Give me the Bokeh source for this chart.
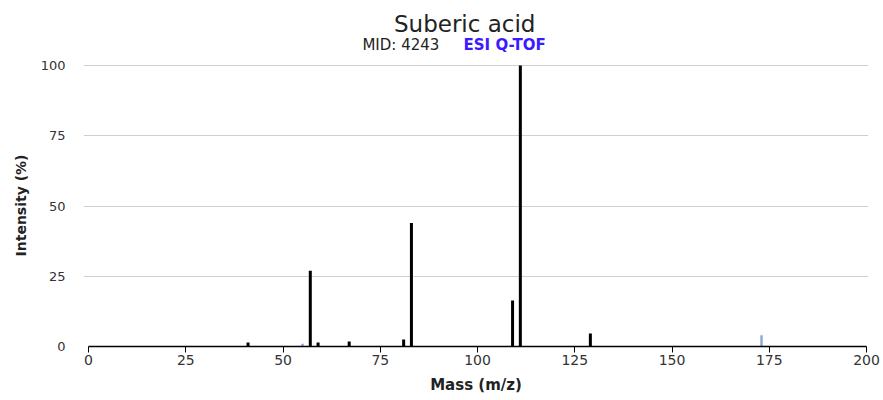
from bokeh.plotting import figure
from bokeh.models import Range1d, FixedTicker, ColumnDataSource
from bokeh.layouts import column
from bokeh.core.properties import value
from bokeh.embed import file_html
from bokeh.resources import INLINE

# Data
mz_main = [41, 57, 59, 67, 81, 83, 109, 111, 129]
int_main = [1.4, 27, 1.4, 1.8, 2.5, 44, 16.4, 100, 4.6]
mz_minor = [55, 173]
int_minor = [1.0, 4.0]
x_ticks = [0, 25, 50, 75, 100, 125, 150, 175, 200]
y_ticks = [0, 25, 50, 75, 100]
title_text = "Suberic acid"
mid_text = "MID: 4243"
inst_text = "ESI Q-TOF"

FONT = "DejaVu Sans"

xr = Range1d(-1.3, 200.5)

# Title strip
t = figure(width=883, height=55, output_backend="svg", toolbar_location=None,
           title=None, x_range=xr, y_range=Range1d(0, 55),
           min_border_left=83, min_border_right=15, min_border_top=0,
           min_border_bottom=0)
t.axis.visible = False
t.grid.visible = False
t.outline_line_color = None
t.text(x=[96.7], y=[32], text=[title_text], text_align="center",
       text_baseline="alphabetic", text_font=value(FONT),
       text_font_size="23px", text_color="#222222")
t.text(x=[70.4], y=[11], text=[mid_text], text_align="left",
       text_baseline="alphabetic", text_font=value(FONT),
       text_font_size="15px", text_color="#222222")
t.text(x=[96.4], y=[11], text=[inst_text], text_align="left",
       text_baseline="alphabetic", text_font=value(FONT),
       text_font_size="15px", text_font_style="bold", text_color="#3a1aff")

p = figure(width=883, height=345, output_backend="svg", toolbar_location=None,
           x_range=xr, y_range=Range1d(0, 100.4),
           min_border_left=83, min_border_right=15, min_border_top=9,
           min_border_bottom=54)
p.outline_line_color = None
p.background_fill_color = "white"

src_main = ColumnDataSource(dict(x=mz_main, y=int_main, y0=[0] * len(mz_main)))
src_minor = ColumnDataSource(dict(x=mz_minor, y=int_minor, y0=[0] * len(mz_minor)))
p.segment(x0="x", y0="y0", x1="x", y1="y", source=src_minor,
          line_color="#8faadc", line_width=2.5)
p.segment(x0="x", y0="y0", x1="x", y1="y", source=src_main,
          line_color="black", line_width=3)

p.xgrid.grid_line_color = None
p.ygrid.grid_line_color = "#d0d0d0"
p.ygrid.ticker = FixedTicker(ticks=y_ticks)

xa = p.xaxis[0]
xa.ticker = FixedTicker(ticks=x_ticks)
xa.bounds = (0, 200)
xa.axis_line_color = "black"
xa.axis_line_width = 1.5
xa.major_tick_line_color = "black"
xa.major_tick_in = 0
xa.major_tick_out = 6
xa.minor_tick_line_color = None
xa.major_label_text_font = FONT
xa.major_label_text_font_size = "14px"
xa.major_label_text_color = "#333333"
xa.major_label_standoff = 2
xa.axis_label = "Mass (m/z)"
xa.axis_label_text_font = FONT
xa.axis_label_text_font_size = "15px"
xa.axis_label_text_font_style = "bold"
xa.axis_label_text_color = "#222222"
xa.axis_label_standoff = 8

ya = p.yaxis[0]
ya.ticker = FixedTicker(ticks=y_ticks)
ya.axis_line_color = None
ya.major_tick_line_color = None
ya.minor_tick_line_color = None
ya.major_label_text_font = FONT
ya.major_label_text_font_size = "13px"
ya.major_label_text_color = "#333333"
ya.major_label_standoff = 12
ya.axis_label = "Intensity (%)"
ya.axis_label_text_font = FONT
ya.axis_label_text_font_size = "14px"
ya.axis_label_text_font_style = "bold"
ya.axis_label_text_color = "#222222"
ya.axis_label_standoff = 9

layout = column(t, p, spacing=0)
open("out.html", "w").write(file_html(layout, INLINE))
